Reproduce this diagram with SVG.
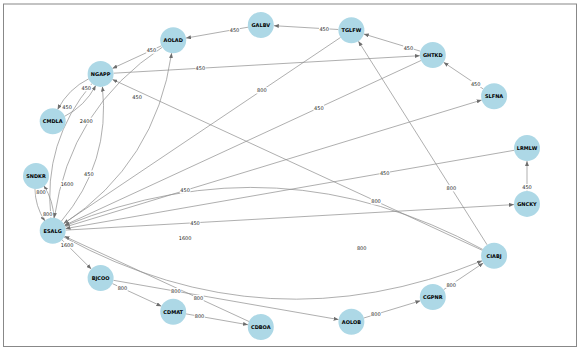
<svg xmlns="http://www.w3.org/2000/svg" width="581" height="351" viewBox="0 0 581 351">
<style>
.e{fill:none;stroke:#8c8c8c;stroke-width:0.7;marker-end:url(#ah)}
.n circle{fill:#add8e6}
.n text{font-family:"DejaVu Sans",sans-serif;font-weight:bold;font-size:5px;fill:#000;text-anchor:middle;dominant-baseline:central}
.l rect{fill:#fff}
.l text{font-family:"DejaVu Sans",sans-serif;font-size:5px;fill:#222;text-anchor:middle;dominant-baseline:central}
</style>
<defs>
<marker id="ah" viewBox="0 0 5 4" refX="5" refY="2" markerWidth="5" markerHeight="4" markerUnits="userSpaceOnUse" orient="auto">
<path d="M0,0 L5,2 L0,4 z" fill="#6e6e6e"/>
</marker>
</defs>
<rect x="3.5" y="4" width="573" height="342.5" fill="#fff" stroke="#888" stroke-width="1"/>
<g id="edges">
<path class="e" d="M338.4,29.5 L273.8,25.7"/>
<path class="e" d="M248.0,27.2 L186.0,38.1"/>
<path class="e" d="M161.4,45.8 L112.4,68.4"/>
<path class="e" d="M420.4,51.2 L363.8,34.0"/>
<path class="e" d="M483.3,89.0 L443.6,62.3"/>
<path class="e" d="M113.6,73.2 L419.8,55.7"/>
<path class="e" d="M340.6,37.4 L63.5,223.6"/>
<path class="e" d="M421.0,60.5 L64.5,225.3"/>
<path class="e" d="M65.1,227.0 L481.7,100.0"/>
<path class="e" d="M514.2,150.3 L65.5,228.6"/>
<path class="e" d="M65.7,230.1 L514.0,204.6"/>
<path class="e" d="M527,190.9 L527,161.1"/>
<path class="e" d="M487.1,244.8 L358.4,41.2"/>
<path class="e" d="M482.3,250.3 L112.4,79.4"/>
<path class="e" d="M62.0,239.9 L91.3,269.0"/>
<path class="e" d="M112.4,283.6 L161.4,306.2"/>
<path class="e" d="M113.4,280.3 L338.6,319.6"/>
<path class="e" d="M249.0,321.5 L64.5,236.3"/>
<path class="e" d="M186.0,313.9 L248.0,324.8"/>
<path class="e" d="M363.8,318.0 L420.4,300.8"/>
<path class="e" d="M443.6,289.7 L483.3,263.0"/>
<path class="e" d="M63.98,237.11 Q267.47,347.99 482.17,260.79"/>
<path class="e" d="M482.81,249.49 Q279.33,138.6 64.62,225.81"/>
<path class="e" d="M63.58,223.93 Q155.92,162.73 171.65,53.08"/>
<path class="e" d="M162.32,47.18 Q69.98,108.37 54.25,218.03"/>
<path class="e" d="M61.27,221.25 Q110.71,162.75 102.38,86.60"/>
<path class="e" d="M92.04,83.44 Q42.59,141.95 50.93,218.09"/>
<path class="e" d="M34.96,188.48 Q35.08,206.23 44.88,221.02"/>
<path class="e" d="M53.75,218.32 Q53.62,200.58 43.83,185.78"/>
<path class="e" d="M64.36,116.46 Q85.10,106.10 95.71,85.50"/>
<path class="e" d="M88.94,78.65 Q68.20,89.0 57.59,109.61"/>
</g>
<g id="edge-labels">
<g class="l"><rect x="319" y="25.4" width="10.5" height="6.5"/><text x="324.2" y="28.6">450</text></g>
<g class="l"><rect x="229.3" y="26.4" width="10.5" height="6.5"/><text x="234.5" y="29.6">450</text></g>
<g class="l"><rect x="146.2" y="47.2" width="10.5" height="6.5"/><text x="151.4" y="50.4">450</text></g>
<g class="l"><rect x="403.2" y="44.4" width="10.5" height="6.5"/><text x="408.4" y="47.6">450</text></g>
<g class="l"><rect x="470.5" y="80.6" width="10.5" height="6.5"/><text x="475.7" y="83.8">450</text></g>
<g class="l"><rect x="195.1" y="65" width="10.5" height="6.5"/><text x="200.3" y="68.2">450</text></g>
<g class="l"><rect x="256.6" y="87.2" width="10.5" height="6.5"/><text x="261.8" y="90.4">800</text></g>
<g class="l"><rect x="313.6" y="104.5" width="10.5" height="6.5"/><text x="318.8" y="107.7">450</text></g>
<g class="l"><rect x="179.9" y="187.2" width="10.5" height="6.5"/><text x="185.1" y="190.4">450</text></g>
<g class="l"><rect x="379.5" y="169.7" width="10.5" height="6.5"/><text x="384.7" y="172.9">450</text></g>
<g class="l"><rect x="189.8" y="219.5" width="10.5" height="6.5"/><text x="195.0" y="222.7">450</text></g>
<g class="l"><rect x="521.8" y="184" width="10.5" height="6.5"/><text x="527" y="187.2">450</text></g>
<g class="l"><rect x="446.1" y="184.9" width="10.5" height="6.5"/><text x="451.3" y="188.1">800</text></g>
<g class="l"><rect x="370.8" y="198" width="10.5" height="6.5"/><text x="376.0" y="201.2">800</text></g>
<g class="l"><rect x="60.3" y="241.8" width="13.5" height="6.5"/><text x="67.1" y="245.0">1600</text></g>
<g class="l"><rect x="117.2" y="285" width="10.5" height="6.5"/><text x="122.4" y="288.2">800</text></g>
<g class="l"><rect x="170.6" y="288" width="10.5" height="6.5"/><text x="175.8" y="291.2">800</text></g>
<g class="l"><rect x="193.2" y="294.9" width="10.5" height="6.5"/><text x="198.4" y="298.1">800</text></g>
<g class="l"><rect x="194.3" y="313.1" width="10.5" height="6.5"/><text x="199.5" y="316.3">800</text></g>
<g class="l"><rect x="370.6" y="311.2" width="10.5" height="6.5"/><text x="375.8" y="314.4">800</text></g>
<g class="l"><rect x="446" y="281.4" width="10.5" height="6.5"/><text x="451.2" y="284.6">800</text></g>
<g class="l"><rect x="178.3" y="235.1" width="13.5" height="6.5"/><text x="185.1" y="238.3">1600</text></g>
<g class="l"><rect x="356.5" y="245.1" width="10.5" height="6.5"/><text x="361.7" y="248.3">800</text></g>
<g class="l"><rect x="83.6" y="170.4" width="10.5" height="6.5"/><text x="88.85" y="173.65">450</text></g>
<g class="l"><rect x="131.8" y="94.2" width="10.5" height="6.5"/><text x="137.05" y="97.45">450</text></g>
<g class="l"><rect x="60.3" y="180.5" width="13.5" height="6.5"/><text x="67.07" y="183.73">1600</text></g>
<g class="l"><rect x="79.5" y="117.7" width="13.5" height="6.5"/><text x="86.23" y="120.97">2400</text></g>
<g class="l"><rect x="35.8" y="189.2" width="10.5" height="6.5"/><text x="41.01" y="192.44">800</text></g>
<g class="l"><rect x="42.5" y="211.1" width="10.5" height="6.5"/><text x="47.69" y="214.36">800</text></g>
<g class="l"><rect x="61.8" y="103.8" width="10.5" height="6.5"/><text x="67.07" y="107.01">450</text></g>
<g class="l"><rect x="81" y="84.8" width="10.5" height="6.5"/><text x="86.23" y="88.09">450</text></g>
</g>
<g id="SLFNA" class="n"><circle cx="494.1" cy="96.2" r="13"/><text x="494.1" y="96.2">SLFNA</text></g>
<g id="GHTKD" class="n"><circle cx="432.8" cy="55.0" r="13"/><text x="432.8" y="55.0">GHTKD</text></g>
<g id="TGLFW" class="n"><circle cx="351.4" cy="30.2" r="13"/><text x="351.4" y="30.2">TGLFW</text></g>
<g id="GALBV" class="n"><circle cx="260.8" cy="25.0" r="13"/><text x="260.8" y="25.0">GALBV</text></g>
<g id="AOLAD" class="n"><circle cx="173.2" cy="40.3" r="13"/><text x="173.2" y="40.3">AOLAD</text></g>
<g id="NGAPP" class="n"><circle cx="100.6" cy="73.9" r="13"/><text x="100.6" y="73.9">NGAPP</text></g>
<g id="CMDLA" class="n"><circle cx="52.7" cy="121.2" r="13"/><text x="52.7" y="121.2">CMDLA</text></g>
<g id="SNDKR" class="n"><circle cx="36.0" cy="176.0" r="13"/><text x="36.0" y="176.0">SNDKR</text></g>
<g id="ESALG" class="n"><circle cx="52.7" cy="230.8" r="13"/><text x="52.7" y="230.8">ESALG</text></g>
<g id="BJCOO" class="n"><circle cx="100.6" cy="278.1" r="13"/><text x="100.6" y="278.1">BJCOO</text></g>
<g id="CDMAT" class="n"><circle cx="173.2" cy="311.7" r="13"/><text x="173.2" y="311.7">CDMAT</text></g>
<g id="CDBOA" class="n"><circle cx="260.8" cy="327.0" r="13"/><text x="260.8" y="327.0">CDBOA</text></g>
<g id="AOLOB" class="n"><circle cx="351.4" cy="321.8" r="13"/><text x="351.4" y="321.8">AOLOB</text></g>
<g id="CGPNR" class="n"><circle cx="432.8" cy="297.0" r="13"/><text x="432.8" y="297.0">CGPNR</text></g>
<g id="CIABJ" class="n"><circle cx="494.1" cy="255.8" r="13"/><text x="494.1" y="255.8">CIABJ</text></g>
<g id="GNCKY" class="n"><circle cx="527.0" cy="203.9" r="13"/><text x="527.0" y="203.9">GNCKY</text></g>
<g id="LRMLW" class="n"><circle cx="527.0" cy="148.1" r="13"/><text x="527.0" y="148.1">LRMLW</text></g>
</svg>
